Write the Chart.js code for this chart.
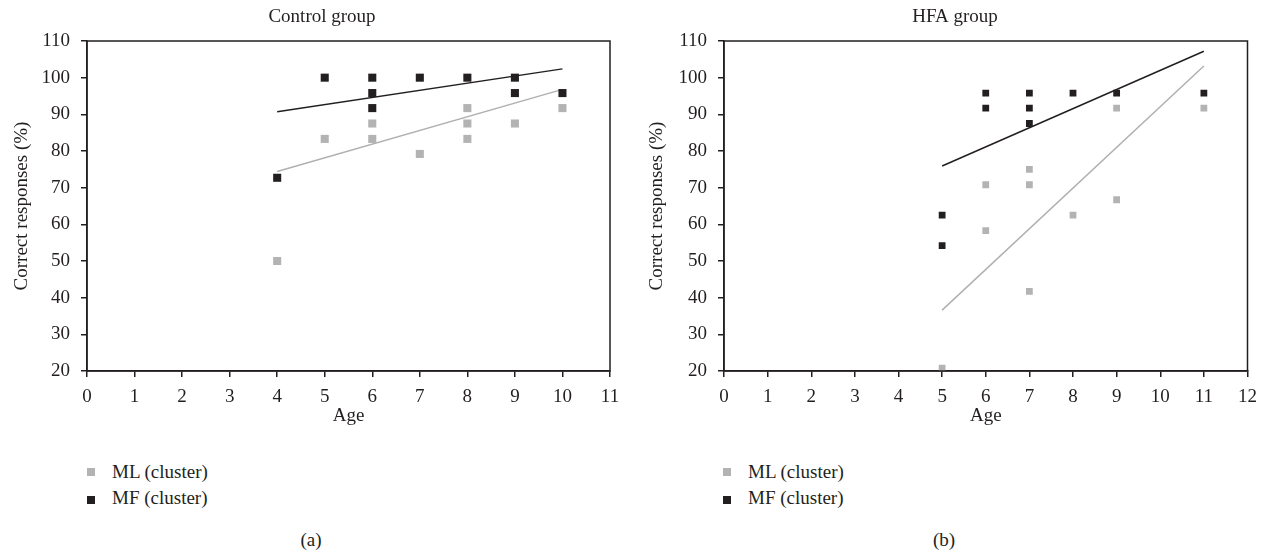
<!DOCTYPE html>
<html>
<head>
<meta charset="utf-8">
<script src="https://cdn.jsdelivr.net/npm/chart.js@4.4.1/dist/chart.umd.min.js"></script>
<style>
  html, body { margin: 0; padding: 0; background: #ffffff; }
  body { width: 1266px; height: 552px; position: relative; overflow: hidden; font-family: "Liberation Serif", "DejaVu Serif", serif; color: #231f20; }
  canvas { position: absolute; top: 0; }
  #c1 { left: 0; }
  #c2 { left: 633px; }
  .leg { position: absolute; font-size: 19px; line-height: 22px; white-space: nowrap; }
  .sw { position: absolute; width: 8px; height: 8px; }
  .cap { position: absolute; font-size: 19px; width: 60px; text-align: center; }
</style>
</head>
<body>
<canvas id="c1" width="633" height="431"></canvas>
<canvas id="c2" width="633" height="431"></canvas>

<div class="sw" style="left:87px; top:468px; background:#b3b3b3;"></div>
<div class="leg" style="left:112px; top:461px;">ML (cluster)</div>
<div class="sw" style="left:87px; top:496px; background:#231f20;"></div>
<div class="leg" style="left:112px; top:487px;">MF (cluster)</div>

<div class="sw" style="left:723px; top:468px; background:#b3b3b3;"></div>
<div class="leg" style="left:748px; top:461px;">ML (cluster)</div>
<div class="sw" style="left:723px; top:496px; background:#231f20;"></div>
<div class="leg" style="left:748px; top:487px;">MF (cluster)</div>

<div class="cap" style="left:281px; top:529px;">(a)</div>
<div class="cap" style="left:914px; top:529px;">(b)</div>

<script>
// ---- Data: Control group ----
const ctrlMFAges   = [4, 5, 6, 6, 6, 7, 8, 9, 9, 10];
const ctrlMFScores = [72.7, 100, 100, 95.8, 91.7, 100, 100, 100, 95.8, 95.8];
const ctrlMLAges   = [4, 5, 6, 6, 7, 8, 8, 8, 9, 10];
const ctrlMLScores = [50, 83.3, 87.5, 83.3, 79.2, 91.7, 87.5, 83.3, 87.5, 91.7];
const ctrlTrendAges = [4, 10];
const ctrlMFTrend   = [90.7, 102.4];
const ctrlMLTrend   = [74.4, 96.8];

// ---- Data: HFA group ----
const hfaMFAges   = [5, 5, 6, 6, 7, 7, 7, 8, 9, 11];
const hfaMFScores = [62.5, 54.2, 95.8, 91.7, 95.8, 91.7, 87.5, 95.8, 95.8, 95.8];
const hfaMLAges   = [5, 6, 6, 7, 7, 7, 8, 9, 9, 11];
const hfaMLScores = [20.8, 70.8, 58.3, 75, 70.8, 41.7, 62.5, 91.7, 66.7, 91.7];
const hfaTrendAges = [5, 11];
const hfaMFTrend   = [75.9, 107.2];
const hfaMLTrend   = [36.6, 103.2];

// ---- Labels ----
const titles = ["Control group", "HFA group"];
const xTitle = "Age";
const yTitle = "Correct responses (%)";
const yMin = 20, yMax = 110, yStep = 10;
const xMaxes = [11, 12];

const BLACK = '#231f20';
const GRAY = '#b3b3b3';
const FONT = '"Liberation Serif", "DejaVu Serif", serif';

function pts(xs, ys) { return xs.map((x, i) => ({ x: x, y: ys[i] })); }

const frame = {
  id: 'frame',
  afterDraw(chart) {
    const a = chart.chartArea, ctx = chart.ctx;
    ctx.save();
    ctx.strokeStyle = BLACK;
    ctx.lineWidth = 1.5;
    ctx.strokeRect(a.left, a.top, a.right - a.left, a.bottom - a.top);
    ctx.restore();
  }
};

function makeChart(id, title, xMax, mf, ml, mfTrend, mlTrend, padLeft, yAxisWidth, yTitlePad, padRight, ptRadius) {
  return new Chart(document.getElementById(id), {
    type: 'scatter',
    data: {
      datasets: [
        { label: 'MF (cluster)', data: mf, pointStyle: 'rect', pointRadius: ptRadius, pointHoverRadius: ptRadius,
          backgroundColor: BLACK, borderColor: BLACK, borderWidth: 0 },
        { label: 'MF trend', data: mfTrend, showLine: true, pointRadius: 0, borderColor: BLACK, borderWidth: 1.5, fill: false },
        { label: 'ML trend', data: mlTrend, showLine: true, pointRadius: 0, borderColor: '#b0b0b0', borderWidth: 1.5, fill: false },
        { label: 'ML (cluster)', data: ml, pointStyle: 'rect', pointRadius: ptRadius, pointHoverRadius: ptRadius,
          backgroundColor: GRAY, borderColor: GRAY, borderWidth: 0 }
      ]
    },
    options: {
      responsive: false,
      animation: false,
      devicePixelRatio: 1,
      layout: { padding: { left: padLeft, right: padRight, top: 0, bottom: 0 } },
      plugins: {
        legend: { display: false },
        tooltip: { enabled: false },
        title: {
          display: true, text: title, color: BLACK,
          font: { family: FONT, size: 19, weight: 'normal', lineHeight: 1.2 },
          padding: { top: 5.6, bottom: 12.6 }
        }
      },
      scales: {
        x: {
          type: 'linear', min: 0, max: xMax,
          ticks: { stepSize: 1, color: BLACK, padding: 9, font: { family: FONT, size: 19 } },
          grid: { drawOnChartArea: false, drawTicks: true, tickLength: 6, color: BLACK, lineWidth: 1.5 },
          border: { display: true, color: BLACK, width: 1.5 },
          title: { display: true, text: xTitle, color: BLACK, font: { family: FONT, size: 19, lineHeight: 1.2 }, padding: { top: 0, bottom: 3.6 } },
          afterFit(scale) { scale.height = 60; }
        },
        y: {
          type: 'linear', min: yMin, max: yMax,
          ticks: { stepSize: yStep, color: BLACK, padding: 11, font: { family: FONT, size: 19 } },
          grid: { drawOnChartArea: false, drawTicks: true, tickLength: 6, color: BLACK, lineWidth: 1.5 },
          border: { display: true, color: BLACK, width: 1.5 },
          title: { display: true, text: yTitle, color: BLACK, font: { family: FONT, size: 19, lineHeight: 1.2 }, padding: { top: yTitlePad, bottom: 0 } },
          afterFit(scale) { scale.width = yAxisWidth; }
        }
      }
    },
    plugins: [frame]
  });
}

makeChart('c1', titles[0], xMaxes[0],
  pts(ctrlMFAges, ctrlMFScores), pts(ctrlMLAges, ctrlMLScores),
  pts(ctrlTrendAges, ctrlMFTrend), pts(ctrlTrendAges, ctrlMLTrend),
  34, 53, -23.4, 23, 5.7);

makeChart('c2', titles[1], xMaxes[1],
  pts(hfaMFAges, hfaMFScores), pts(hfaMLAges, hfaMLScores),
  pts(hfaTrendAges, hfaMFTrend), pts(hfaTrendAges, hfaMLTrend),
  29, 62, -16.4, 18, 4.8);
</script>
</body>
</html>
